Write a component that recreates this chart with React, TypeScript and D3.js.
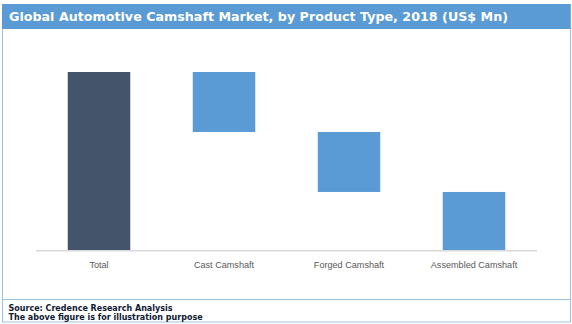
import React from "react";
import * as d3 from "d3";

const title = "Global Automotive Camshaft Market, by Product Type, 2018 (US$ Mn)";
const categories = ["Total", "Cast Camshaft", "Forged Camshaft", "Assembled Camshaft"];
const values = [100, 33.7, 33.7, 32.6];
const isTotal = [true, false, false, false];
const sourceLines = ["Source: Credence Research Analysis", "The above figure is for illustration purpose"];

const W = 572;
const H = 324;

export default function App() {
  const segs: { cat: string; y0: number; y1: number; total: boolean }[] = [];
  let running = 0;
  categories.forEach((c, i) => {
    if (isTotal[i]) {
      running = values[i];
      segs.push({ cat: c, y0: 0, y1: values[i], total: true });
    } else {
      const top = running;
      running = running - values[i];
      segs.push({ cat: c, y0: Math.max(running, 0), y1: top, total: false });
    }
  });

  const x = d3.scaleBand<string>().domain(categories).range([36.5, 536.5]).paddingInner(0.5).paddingOuter(0.25);
  const y = d3.scaleLinear().domain([0, 100]).range([250, 72]);

  return (
    <svg width={W} height={H} style={{ position: "absolute", left: 0, top: 0 }}>
      <rect x={0} y={0} width={W} height={H} fill="#ffffff" />
      <rect x={2.5} y={4.5} width={568} height={317.5} fill="#ffffff" stroke="#9DC3E6" strokeWidth={1} />
      <rect x={2} y={4} width={568.5} height={25} fill="#5B9BD5" />
      <text x={9} y={21} fill="#ffffff" fontFamily="DejaVu Sans, Verdana, sans-serif" fontWeight="bold" fontSize={12.7}>
        {title}
      </text>
      <line x1={36} x2={537} y1={250.75} y2={250.75} stroke="#D9D9D9" strokeWidth={1.5} />
      {segs.map((s) => (
        <rect
          key={s.cat}
          x={x(s.cat)}
          width={x.bandwidth()}
          y={y(s.y1)}
          height={y(s.y0) - y(s.y1)}
          fill={s.total ? "#44546A" : "#5B9BD5"}
        />
      ))}
      {categories.map((c) => (
        <text
          key={c}
          x={(x(c) as number) + x.bandwidth() / 2}
          y={267.5}
          textAnchor="middle"
          fill="#595959"
          fontFamily="Liberation Sans, Arial, sans-serif"
          fontSize={9.1}
        >
          {c}
        </text>
      ))}
      <line x1={2.5} x2={570.5} y1={299.5} y2={299.5} stroke="#9DC3E6" strokeWidth={1} />
      {sourceLines.map((t, i) => (
        <text
          key={t}
          x={8.5}
          y={311 + i * 9}
          fill="#0f1a33"
          fontFamily="DejaVu Sans, Verdana, sans-serif"
          fontWeight="bold"
          fontSize={8}
        >
          {t}
        </text>
      ))}
    </svg>
  );
}
